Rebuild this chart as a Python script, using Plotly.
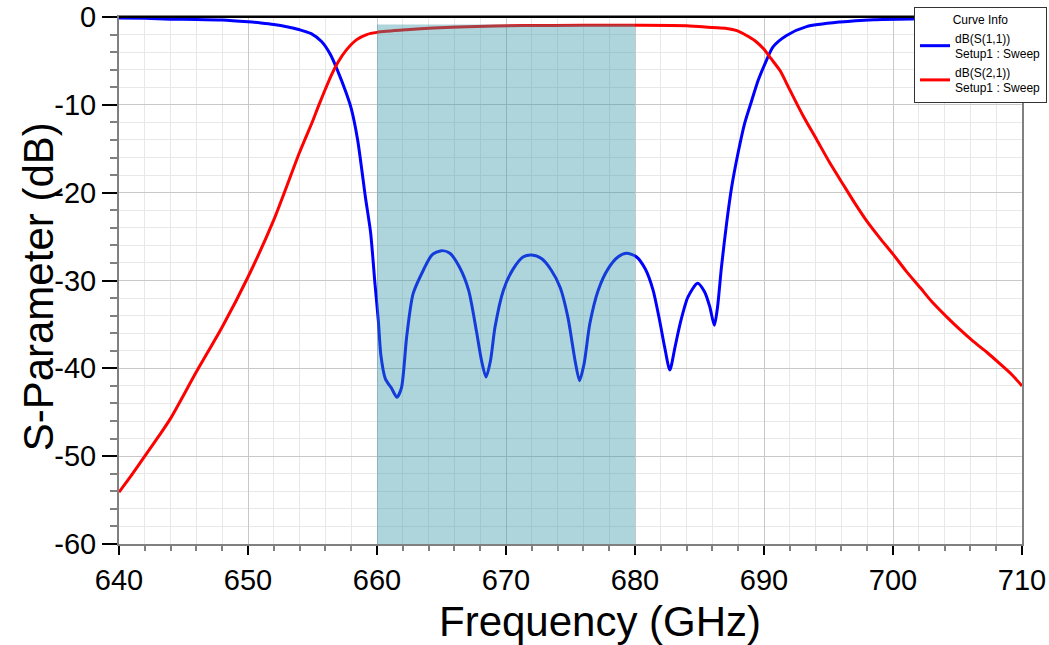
import plotly.graph_objects as go

# ---------------- data ----------------
s11_freq = [640, 642, 644, 646, 648, 650, 651, 652, 653, 654, 654.9, 655.7, 656.4, 657, 657.6,
            658, 658.5, 659.1, 659.5, 659.85, 660.1, 660.3, 660.65, 661.1, 661.55, 661.9, 662.3,
            662.8, 663.6, 664.25, 665.0, 665.65, 666.4, 667.1, 667.7, 668.1, 668.45, 668.8, 669.15,
            669.8, 670.55, 671.35, 672.0, 672.75, 673.5, 674.2, 674.8, 675.35, 675.7, 676.05, 676.5,
            677.15, 677.9, 678.7, 679.35, 680.1, 680.8, 681.4, 681.9, 682.3, 682.7, 683.1, 683.5,
            684.1, 684.85, 685.4, 685.8, 686.15, 686.4, 686.7, 687.1, 687.5, 688.0, 688.5, 689.05,
            689.55, 690.2, 690.7, 691.75, 693.3, 695.9, 698.5, 702.3, 706, 710]
s11_db = [-0.1, -0.15, -0.25, -0.28, -0.35, -0.55, -0.68, -0.85, -1.1, -1.45, -1.9, -2.8, -4.3, -6.3, -8.6,
          -10.4, -14, -20.5, -24.5, -30.5, -34.5, -38.5, -41.2, -42.2, -43.3, -42.2, -36.4,
          -31.5, -28.8, -27.1, -26.6, -26.9, -28.5, -31.1, -35.7, -39.1, -41.0, -39.1, -35.3,
          -31.1, -28.7, -27.3, -27.1, -27.5, -28.8, -30.8, -34.2, -39.1, -41.4, -39.5, -34.9,
          -31.1, -28.7, -27.3, -26.9, -27.3, -28.7, -31.1, -34.5, -37.6, -40.2, -37.6, -34.9,
          -31.9, -30.3, -31.3, -33.0, -35.1, -33.0, -28.5, -23.5, -19.3, -15.4, -12.1, -9.5,
          -7.2, -4.9, -3.4, -2.1, -1.1, -0.57, -0.3, -0.2, -0.12, -0.1]

s21_freq = [640, 641, 642, 643, 644, 646, 648, 650, 652, 654, 655, 655.5, 656, 656.5, 657, 657.6,
            658.4, 659.2, 660, 662.3, 664.4, 667, 671.3, 676, 680, 684, 686, 687.1, 687.9, 688.65,
            689.3, 689.95, 690.55, 691.24, 692.0, 693.05, 694.1, 695.1, 696.15, 697.0, 698.0, 699.0,
            700.0, 701.0, 702.1, 703.0, 704.2, 705.2, 706.2, 707.3, 708.3, 709.2, 710]
s21_db = [-54.1, -52.1, -50.0, -47.9, -45.7, -40.4, -35.3, -29.6, -23.1, -15.4, -11.9, -10.0, -8.2, -6.5,
          -5.1, -3.8, -2.6, -2.0, -1.75, -1.45, -1.25, -1.1, -0.98, -0.95, -0.95, -1.0, -1.2, -1.3,
          -1.55, -2.1, -2.7, -3.6, -4.75, -6.1, -8.3, -11.3, -14.0, -16.6, -19.1, -21.1, -23.3, -25.2,
          -27.0, -28.9, -30.8, -32.4, -34.2, -35.6, -36.9, -38.2, -39.5, -40.7, -42.0]

band_start, band_end, band_top = 660, 680, -0.85

x_ticks = [640, 650, 660, 670, 680, 690, 700, 710]
y_ticks = [0, -10, -20, -30, -40, -50, -60]

FONT = "Arial, Liberation Sans, sans-serif"

fig = go.Figure()
fig.add_trace(go.Scatter(x=s11_freq, y=s11_db, mode="lines",
                         name="dB(S(1,1))<br>Setup1 : Sweep",
                         line=dict(color="#0000FF", width=3, shape="spline", smoothing=0.7)))
fig.add_trace(go.Scatter(x=s21_freq, y=s21_db, mode="lines",
                         name="dB(S(2,1))<br>Setup1 : Sweep",
                         line=dict(color="#FF0000", width=3, shape="spline", smoothing=0.7)))

# highlighted pass band
fig.add_shape(type="rect", xref="x", yref="y", x0=band_start, x1=band_end, y0=-60, y1=band_top,
              fillcolor="rgba(50,150,165,0.4)", line=dict(width=0), layer="above")
# black top frame line
fig.add_shape(type="line", xref="paper", yref="paper", x0=0, x1=1, y0=1, y1=1,
              line=dict(color="black", width=2), layer="above")

axis_common = dict(
    showline=True, linecolor="#808080", linewidth=2, mirror=True,
    showgrid=True, gridcolor="#C8C8C8", gridwidth=1.3,
    ticks="outside", tickcolor="black", tickwidth=1.5,
    tickfont=dict(family=FONT, size=29, color="black"),
    zeroline=False,
)

fig.update_xaxes(range=[640, 710], tickvals=x_ticks, ticktext=[str(v) for v in x_ticks], ticklen=9,
                 minor=dict(dtick=2, tick0=640, showgrid=True, gridcolor="#E8E8E8", gridwidth=1.3,
                            ticks="outside", ticklen=5, tickcolor="#808080"),
                 **axis_common)
fig.update_yaxes(range=[-60, 0], tickvals=y_ticks, ticktext=[str(v) for v in y_ticks], ticklen=15,
                 minor=dict(dtick=2, tick0=0, showgrid=True, gridcolor="#E8E8E8", gridwidth=1.3,
                            ticks="outside", ticklen=7, tickcolor="#808080"),
                 **axis_common)

# axis titles
fig.add_annotation(text="Frequency (GHz)", xref="paper", yref="paper", x=0.5327, y=-0.148,
                   xanchor="center", yanchor="middle", showarrow=False,
                   font=dict(family=FONT, size=42, color="black"))
fig.add_annotation(text="S-Parameter (dB)", xref="paper", yref="paper", x=-0.0897, y=0.487,
                   xanchor="center", yanchor="middle", showarrow=False, textangle=-90,
                   font=dict(family=FONT, size=42, color="black"))

fig.update_layout(
    width=1049, height=645,
    margin=dict(l=119, r=27, t=17, b=101, autoexpand=False),
    paper_bgcolor="white", plot_bgcolor="white",
    showlegend=True,
    legend=dict(
        title=dict(text="Curve Info", side="top center", font=dict(family=FONT, size=12, color="black")),
        x=1.0277, xanchor="right", y=1.019, yanchor="top",
        bgcolor="white", bordercolor="#333333", borderwidth=1,
        font=dict(family=FONT, size=12, color="black"),
        itemwidth=30, tracegroupgap=0,
    ),
)

fig.write_html("out.html")
